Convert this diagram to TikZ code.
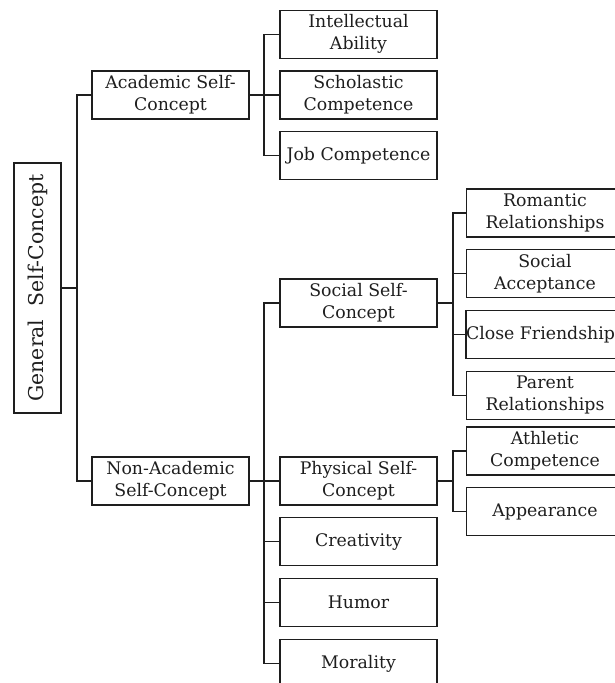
\documentclass[tikz,border=0pt]{standalone}
\usepackage{fontspec}
\setmainfont{DejaVu Serif}
\usepackage{tikz}
\usetikzlibrary{positioning}
\definecolor{InkGray}{HTML}{1E1E1E}

\begin{document}
\begin{tikzpicture}[
  x=0.75pt,y=-0.75pt,
  node distance=8.6pt and 10pt,
  box/.style={draw=InkGray,line width=1pt,inner sep=0pt,minimum width=117.75pt,minimum height=36pt,align=center,text=InkGray,font=\fontsize{13}{16.5}\selectfont},
  link/.style={draw=InkGray,line width=1pt}
]
\useasboundingbox (0,0) rectangle (615,683);
\clip (0,0) rectangle (615,683);
% root
\node[box,rotate=90,minimum width=187.5pt,minimum height=35.25pt,font=\fontsize{15.3}{18}\selectfont] (gen) at (37.5,288) {General\ \ Self-Concept};
% first level
\node[box] (acad) at (170.5,95) {Academic Self-\\Concept};
\node[box] (nonacad) at (170.5,481) {Non-Academic\\Self-Concept};
% academic branch
\node[box] (schol) at (358.5,95) {Scholastic\\Competence};
\node[box,above=of schol] (intel) {Intellectual\\Ability};
\node[box,below=of schol] (job) {Job Competence};
% non-academic branch
\node[box] (social) at (358.5,303) {Social Self-\\Concept};
\node[box] (phys) at (358.5,481) {Physical Self-\\Concept};
\node[box,below=of phys] (creat) {Creativity};
\node[box,below=of creat] (humor) {Humor};
\node[box,below=of humor] (moral) {Morality};
% social branch
\node[box] (romant) at (545,213) {Romantic\\Relationships};
\node[box,below=of romant] (accept) {Social\\Acceptance};
\node[box,below=of accept] (close) {Close Friendships};
\node[box,below=of close] (parent) {Parent\\Relationships};
% physical branch
\node[box] (athl) at (545,451) {Athletic\\Competence};
\node[box,below=of athl] (appear) {Appearance};
% junctions
\coordinate (j0) at (77,288);
\coordinate (j1) at (264,95);
\coordinate (j2) at (264,481);
\coordinate (j3) at (453,303);
\coordinate (j4) at (453,481);
% connectors
\draw[link] (gen.south) -- (j0);
\draw[link] (acad.west) -| (j0) |- (nonacad.west);
\draw[link] (acad.east) -- (schol.west);
\draw[link] (intel.west) -| (j1) |- (job.west);
\draw[link] (nonacad.east) -- (phys.west);
\draw[link] (social.west) -| (j2) |- (moral.west);
\draw[link] (creat.west) -- (creat.west -| j2);
\draw[link] (humor.west) -- (humor.west -| j2);
\draw[link] (social.east) -- (j3);
\draw[link] (romant.west) -| (j3) |- (parent.west);
\draw[link] (accept.west) -- (accept.west -| j3);
\draw[link] (close.west) -- (close.west -| j3);
\draw[link] (phys.east) -- (j4);
\draw[link] (athl.west) -| (j4) |- (appear.west);
\end{tikzpicture}
\end{document}
